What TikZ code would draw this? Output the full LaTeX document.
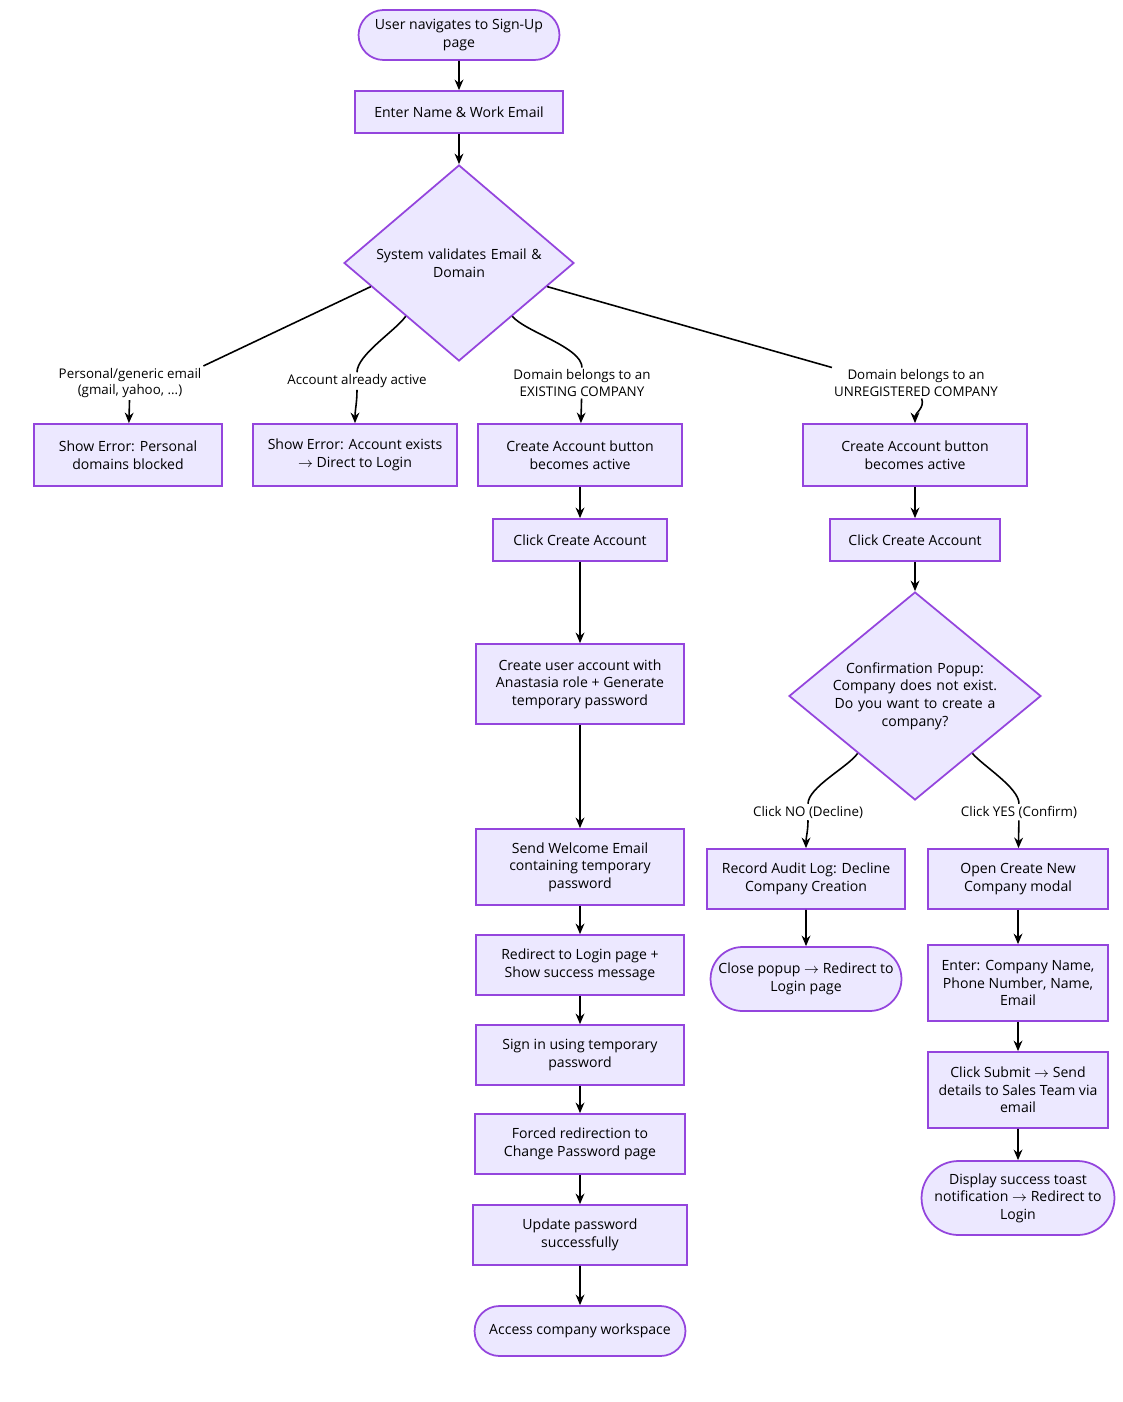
\documentclass[tikz,border=0pt]{standalone}
\usepackage{fontspec}
\setmainfont{Open Sans}
\usetikzlibrary{shapes.geometric, shapes.misc, arrows.meta}
\definecolor{nodefill}{HTML}{ECE8FF}
\definecolor{nodeline}{HTML}{9445DD}
\tikzset{
    base/.style={draw=nodeline, fill=nodefill, line width=1pt, align=center,
        font=\fontsize{8}{10}\selectfont, inner sep=2pt},
    box/.style={base, rectangle},
    term/.style={base, rounded rectangle},
    dec/.style={base, diamond, inner sep=-6pt},
    lbl/.style={align=center, font=\fontsize{7.6}{9.4}\selectfont, fill=white, inner sep=1pt},
    flow/.style={-{Stealth[length=6pt,width=5pt]}, line width=0.9pt},
    link/.style={line width=0.9pt}
}
\begin{document}
\begin{tikzpicture}[x=0.02cm, y=-0.02cm]
    \useasboundingbox (0,0) rectangle (1122,1402);

    % main column
    \node[term, minimum width=4.16cm, minimum height=1.0cm] (start) at (459,35) {User navigates to Sign-Up\\page};
    \node[box, minimum width=4.16cm, minimum height=0.84cm] (enter) at (459,112) {Enter Name \& Work Email};
    \node[dec, minimum width=4.6cm, minimum height=3.92cm, text width=3.6cm] (check) at (459,263) {System validates Email \&\\Domain};

    % branches
    \node[box, minimum width=3.76cm, minimum height=1.24cm] (personal) at (128,455) {Show Error: Personal\\domains blocked};
    \node[box, minimum width=4.08cm, minimum height=1.24cm] (exists) at (355,455) {Show Error: Account exists\\$\rightarrow$ Direct to Login};
    \node[box, minimum width=4.08cm, minimum height=1.24cm] (exActive) at (580,455) {Create Account button\\becomes active};
    \node[box, minimum width=4.48cm, minimum height=1.24cm] (unActive) at (915,455) {Create Account button\\becomes active};

    % existing company
    \node[box, minimum width=3.48cm, minimum height=0.84cm] (exClick) at (580,540) {Click Create Account};
    \node[box, minimum width=4.16cm, minimum height=1.6cm] (exCreate) at (580,684) {Create user account with\\Anastasia role + Generate\\temporary password};
    \node[box, minimum width=4.16cm, minimum height=1.52cm] (exMail) at (580,867) {Send Welcome Email\\containing temporary\\password};
    \node[box, minimum width=4.16cm, minimum height=1.2cm] (exRedirect) at (580,965) {Redirect to Login page +\\Show success message};
    \node[box, minimum width=4.16cm, minimum height=1.2cm] (exSign) at (580,1055) {Sign in using temporary\\password};
    \node[box, minimum width=4.2cm, minimum height=1.2cm] (exForce) at (580,1144) {Forced redirection to\\Change Password page};
    \node[box, minimum width=4.28cm, minimum height=1.2cm] (exUpdate) at (580,1235) {Update password\\successfully};
    \node[term, minimum width=4.36cm, minimum height=1.0cm] (exDone) at (580,1331) {Access company workspace};

    % unregistered company
    \node[box, minimum width=3.4cm, minimum height=0.84cm] (unClick) at (915,540) {Click Create Account};
    \node[dec, minimum width=5.04cm, minimum height=4.16cm, text width=3.3cm] (popup) at (915,696) {Confirmation Popup:\\Company does not exist.\\Do you want to create a\\company?};
    \node[box, minimum width=3.96cm, minimum height=1.2cm] (noLog) at (806,879) {Record Audit Log: Decline\\Company Creation};
    \node[term, minimum width=3.96cm, minimum height=1.28cm] (noClose) at (806,979) {Close popup $\rightarrow$ Redirect to\\Login page};
    \node[box, minimum width=3.6cm, minimum height=1.2cm] (yesModal) at (1018,879) {Open Create New\\Company modal};
    \node[box, minimum width=3.6cm, minimum height=1.52cm] (yesEnter) at (1018,983) {Enter: Company Name,\\Phone Number, Name,\\Email};
    \node[box, minimum width=3.6cm, minimum height=1.52cm] (yesSubmit) at (1018,1090) {Click Submit $\rightarrow$ Send\\details to Sales Team via\\email};
    \node[term, minimum width=4.0cm, minimum height=1.48cm] (yesToast) at (1018,1198) {Display success toast\\notification $\rightarrow$ Redirect to\\Login};

    % edge labels
    \node[lbl] (lPersonal) at (130,383) {Personal/generic email\\(gmail, yahoo, ...)};
    \node[lbl] (lExists) at (357,381) {Account already active};
    \node[lbl] (lExisting) at (582,383) {Domain belongs to an\\EXISTING COMPANY};
    \node[lbl] (lUnreg) at (916,383) {Domain belongs to an\\UNREGISTERED COMPANY};
    \node[lbl] (lNo) at (808,812) {Click NO (Decline)};
    \node[lbl] (lYes) at (1019,812) {Click YES (Confirm)};

    % connectors
    \draw[flow] (start) -- (enter);
    \draw[flow] (enter) -- (check);
    \draw[link] (check.195) -- (lPersonal.north east);
    \draw[flow] (lPersonal) -- (personal);
    \draw[link] (check.225) to[out=235, in=90, looseness=0.6] (lExists.north);
    \draw[flow] (lExists) to[out=-90, in=90] (exists);
    \draw[link] (check.315) to[out=-50, in=90, looseness=0.6] (lExisting.north);
    \draw[flow] (lExisting) -- (exActive);
    \draw[link] (check.345) -- (lUnreg.north west);
    \draw[flow] (lUnreg) to[out=-70, in=90] (unActive);

    \draw[flow] (exActive) -- (exClick);
    \draw[flow] (exClick) -- (exCreate);
    \draw[flow] (exCreate) -- (exMail);
    \draw[flow] (exMail) -- (exRedirect);
    \draw[flow] (exRedirect) -- (exSign);
    \draw[flow] (exSign) -- (exForce);
    \draw[flow] (exForce) -- (exUpdate);
    \draw[flow] (exUpdate) -- (exDone);

    \draw[flow] (unActive) -- (unClick);
    \draw[flow] (unClick) -- (popup);
    \draw[link] (popup.225) to[out=235, in=90, looseness=0.6] (lNo.north);
    \draw[flow] (lNo) to[out=-90, in=90] (noLog);
    \draw[flow] (noLog) -- (noClose);
    \draw[link] (popup.315) to[out=-50, in=90, looseness=0.6] (lYes.north);
    \draw[flow] (lYes) -- (yesModal);
    \draw[flow] (yesModal) -- (yesEnter);
    \draw[flow] (yesEnter) -- (yesSubmit);
    \draw[flow] (yesSubmit) -- (yesToast);
\end{tikzpicture}
\end{document}
